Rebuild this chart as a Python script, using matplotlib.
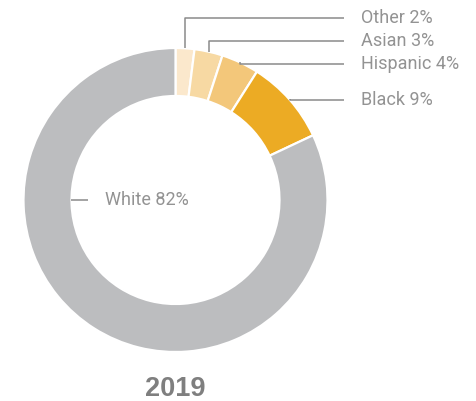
import numpy as np
import matplotlib.pyplot as plt

groups = ['Other', 'Asian', 'Hispanic', 'Black', 'White']
shares = [2, 3, 4, 9, 82]
colors = ['#fbe8cc', '#f7d9a3', '#f3c77a', '#ecab24', '#bcbdbf']
year = '2019'

W, H = 477, 401
fig = plt.figure(figsize=(W / 100, H / 100), dpi=100)
ax = fig.add_axes([0, 0, 1, 1])

# ring geometry in pixel units (y measured from bottom)
cx, cy = 175.5, H - 200
R, ring = 152, 48
wedges, _ = ax.pie(shares, colors=colors, startangle=90, counterclock=False,
                   radius=R, center=(cx, cy),
                   wedgeprops=dict(width=ring, edgecolor='white', linewidth=1.6))
ax.set_xlim(0, W)
ax.set_ylim(0, H)
ax.set_aspect('equal')
ax.axis('off')

line_c = '#8a8a8a'
text_c = '#939393'
font = dict(family=['Roboto', 'DejaVu Sans'], size=13, color=text_c)

# labels on the right for the small groups
label_y = [18, 41, 64, 100]
line_end = 344
for w, g, s, ly in zip(wedges[:4], groups[:4], shares[:4], label_y):
    th = np.deg2rad((w.theta1 + w.theta2) / 2)
    x0 = cx + R * np.cos(th)
    y0 = cy + R * np.sin(th)
    ty = H - ly
    ax.plot([x0, x0, line_end], [y0, ty, ty], color=line_c, lw=1.1,
            solid_capstyle='butt')
    ax.text(line_end + 17, ty, f'{g} {s}%', va='center', ha='left', **font)

# label for the big group, inside the hole
xi = cx - (R - ring)
ax.plot([xi, xi + 17], [cy, cy], color=line_c, lw=1.1, solid_capstyle='butt')
ax.text(xi + 34, cy, f'{groups[4]} {shares[4]}%', va='center', ha='left', **font)

ax.text(cx, H - 389, year, ha='center', va='center', fontsize=19.5,
        fontweight='bold', family=['Liberation Sans', 'DejaVu Sans'],
        color='#7f7f7f')

fig.savefig('out.png', dpi=100)
